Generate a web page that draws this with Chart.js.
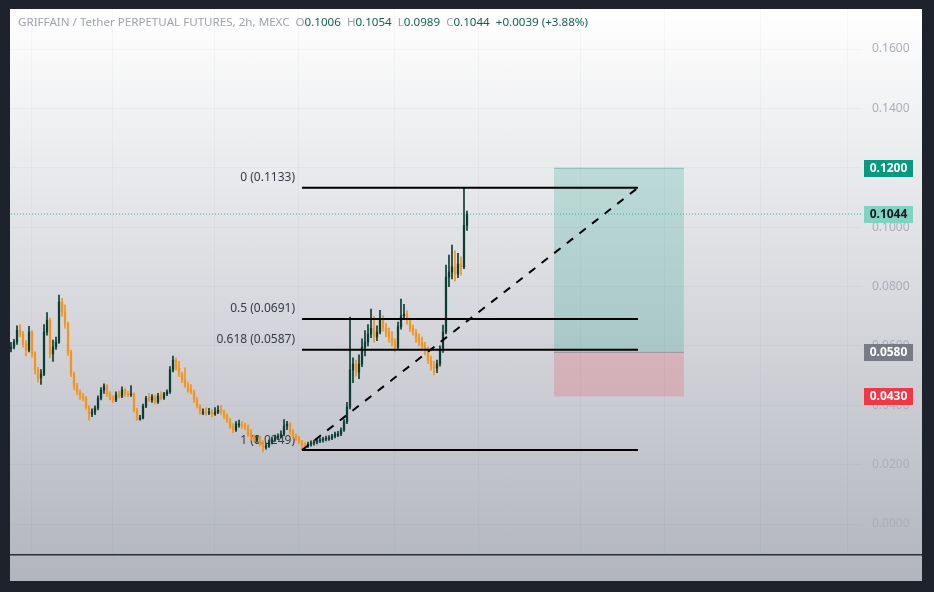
<!DOCTYPE html>
<html>
<head>
<meta charset="utf-8">
<script src="https://cdn.jsdelivr.net/npm/chart.js@4.4.1/dist/chart.umd.min.js"></script>
<style>
    html, body { margin: 0; padding: 0; background: #1e222d; width: 934px; height: 592px; overflow: hidden; }
    #panel {
        position: absolute; left: 10px; top: 9px; width: 912px; height: 572px;
        background: linear-gradient(to bottom, #ffffff 0%, #b2b5be 100%);
    }
    #chart { position: absolute; left: 0; top: 0; }
    #legend {
        position: absolute; left: 8px; top: 5px; white-space: pre;
        font: 11.6px "Noto Sans", sans-serif; color: #a0a3ac;
    }
    #legend .v { color: #135e51; }
</style>
</head>
<body>
<div id="panel">
    <canvas id="chart" width="912" height="572"></canvas>
    <div id="legend">GRIFFAIN / Tether PERPETUAL FUTURES, 2h, MEXC  O<span class="v">0.1006</span>  H<span class="v">0.1054</span>  L<span class="v">0.0989</span>  C<span class="v">0.1044</span>  <span class="v">+0.0039 (+3.88%)</span></div>
</div>
<script>
// 2h candles, index = bar number
const candleOpen = [
    0.0590, 0.0596, 0.0613, 0.0653, 0.0640, 0.0606, 0.0586, 0.0647, 0.0573, 0.0519,
    0.0492, 0.0505, 0.0647, 0.0687, 0.0573, 0.0596, 0.0613, 0.0748, 0.0714, 0.0674,
    0.0579, 0.0505, 0.0465, 0.0445, 0.0431, 0.0424, 0.0394, 0.0371, 0.0377, 0.0391,
    0.0424, 0.0451, 0.0465, 0.0438, 0.0424, 0.0418, 0.0435, 0.0431, 0.0451, 0.0438,
    0.0435, 0.0438, 0.0384, 0.0357, 0.0357, 0.0397, 0.0424, 0.0418, 0.0428, 0.0411,
    0.0431, 0.0424, 0.0438, 0.0445, 0.0519, 0.0552, 0.0525, 0.0505, 0.0485, 0.0465,
    0.0451, 0.0445, 0.0418, 0.0397, 0.0377, 0.0377, 0.0374, 0.0377, 0.0371, 0.0377,
    0.0384, 0.0377, 0.0364, 0.0350, 0.0330, 0.0317, 0.0337, 0.0337, 0.0330, 0.0327,
    0.0303, 0.0290, 0.0283, 0.0290, 0.0269, 0.0259, 0.0263, 0.0276, 0.0283, 0.0290,
    0.0296, 0.0303, 0.0330, 0.0337, 0.0310, 0.0296, 0.0290, 0.0276, 0.0266, 0.0263,
    0.0269, 0.0273, 0.0276, 0.0280, 0.0283, 0.0286, 0.0290, 0.0290, 0.0296, 0.0303,
    0.0303, 0.0317, 0.0344, 0.0394, 0.0519, 0.0539, 0.0512, 0.0539, 0.0596, 0.0613,
    0.0640, 0.0660, 0.0630, 0.0647, 0.0687, 0.0660, 0.0647, 0.0627, 0.0613, 0.0596,
    0.0664, 0.0701, 0.0707, 0.0687, 0.0660, 0.0647, 0.0627, 0.0613, 0.0600, 0.0586,
    0.0552, 0.0532, 0.0525, 0.0539, 0.0586, 0.0647, 0.0832, 0.0849, 0.0866, 0.0842,
    0.0876, 0.0866, 0.1006
];
const candleHigh = [
    0.0612, 0.0622, 0.0668, 0.0672, 0.0648, 0.0618, 0.0666, 0.0652, 0.0580, 0.0528,
    0.0520, 0.0672, 0.0712, 0.0694, 0.0620, 0.0630, 0.0771, 0.0760, 0.0738, 0.0680,
    0.0586, 0.0512, 0.0474, 0.0452, 0.0440, 0.0430, 0.0400, 0.0388, 0.0398, 0.0432,
    0.0460, 0.0472, 0.0470, 0.0446, 0.0432, 0.0445, 0.0448, 0.0462, 0.0456, 0.0447,
    0.0466, 0.0442, 0.0390, 0.0366, 0.0404, 0.0430, 0.0440, 0.0436, 0.0434, 0.0440,
    0.0446, 0.0444, 0.0452, 0.0530, 0.0566, 0.0560, 0.0548, 0.0512, 0.0526, 0.0478,
    0.0470, 0.0452, 0.0426, 0.0402, 0.0388, 0.0392, 0.0390, 0.0386, 0.0392, 0.0398,
    0.0400, 0.0384, 0.0370, 0.0356, 0.0338, 0.0345, 0.0350, 0.0346, 0.0340, 0.0334,
    0.0318, 0.0300, 0.0298, 0.0296, 0.0280, 0.0272, 0.0284, 0.0292, 0.0300, 0.0304,
    0.0314, 0.0352, 0.0346, 0.0342, 0.0318, 0.0304, 0.0296, 0.0282, 0.0274, 0.0276,
    0.0280, 0.0282, 0.0286, 0.0290, 0.0292, 0.0296, 0.0298, 0.0302, 0.0310, 0.0312,
    0.0324, 0.0352, 0.0410, 0.0697, 0.0560, 0.0552, 0.0570, 0.0624, 0.0652, 0.0672,
    0.0724, 0.0700, 0.0668, 0.0720, 0.0702, 0.0676, 0.0660, 0.0648, 0.0624, 0.0680,
    0.0758, 0.0740, 0.0718, 0.0694, 0.0670, 0.0656, 0.0640, 0.0630, 0.0612, 0.0596,
    0.0566, 0.0548, 0.0552, 0.0600, 0.0670, 0.0872, 0.0906, 0.0940, 0.0920, 0.0912,
    0.0900, 0.1133, 0.1054
];
const candleLow = [
    0.0580, 0.0590, 0.0605, 0.0630, 0.0596, 0.0566, 0.0580, 0.0562, 0.0505, 0.0478,
    0.0470, 0.0500, 0.0636, 0.0560, 0.0548, 0.0588, 0.0608, 0.0700, 0.0660, 0.0568,
    0.0496, 0.0452, 0.0436, 0.0420, 0.0415, 0.0386, 0.0350, 0.0362, 0.0368, 0.0384,
    0.0418, 0.0440, 0.0430, 0.0418, 0.0410, 0.0412, 0.0425, 0.0426, 0.0430, 0.0428,
    0.0430, 0.0378, 0.0350, 0.0350, 0.0354, 0.0392, 0.0412, 0.0410, 0.0404, 0.0406,
    0.0418, 0.0420, 0.0432, 0.0440, 0.0512, 0.0518, 0.0496, 0.0476, 0.0460, 0.0444,
    0.0438, 0.0410, 0.0390, 0.0370, 0.0368, 0.0366, 0.0368, 0.0362, 0.0366, 0.0372,
    0.0370, 0.0356, 0.0342, 0.0322, 0.0308, 0.0312, 0.0326, 0.0322, 0.0318, 0.0295,
    0.0282, 0.0276, 0.0276, 0.0262, 0.0243, 0.0252, 0.0258, 0.0270, 0.0278, 0.0284,
    0.0290, 0.0298, 0.0318, 0.0302, 0.0288, 0.0282, 0.0270, 0.0249, 0.0256, 0.0258,
    0.0262, 0.0266, 0.0270, 0.0274, 0.0276, 0.0280, 0.0282, 0.0284, 0.0290, 0.0294,
    0.0298, 0.0312, 0.0338, 0.0388, 0.0476, 0.0498, 0.0490, 0.0530, 0.0566, 0.0600,
    0.0628, 0.0612, 0.0618, 0.0640, 0.0650, 0.0630, 0.0612, 0.0600, 0.0580, 0.0588,
    0.0656, 0.0688, 0.0672, 0.0648, 0.0636, 0.0612, 0.0600, 0.0590, 0.0570, 0.0540,
    0.0518, 0.0502, 0.0510, 0.0532, 0.0578, 0.0640, 0.0800, 0.0826, 0.0818, 0.0830,
    0.0838, 0.0860, 0.0989
];
const candleClose = [
    0.0596, 0.0613, 0.0653, 0.0640, 0.0606, 0.0586, 0.0647, 0.0573, 0.0519, 0.0492,
    0.0505, 0.0647, 0.0687, 0.0573, 0.0596, 0.0613, 0.0748, 0.0714, 0.0674, 0.0579,
    0.0505, 0.0465, 0.0445, 0.0431, 0.0424, 0.0394, 0.0371, 0.0377, 0.0391, 0.0424,
    0.0451, 0.0465, 0.0438, 0.0424, 0.0418, 0.0435, 0.0431, 0.0451, 0.0438, 0.0435,
    0.0438, 0.0384, 0.0357, 0.0357, 0.0397, 0.0424, 0.0418, 0.0428, 0.0411, 0.0431,
    0.0424, 0.0438, 0.0445, 0.0519, 0.0552, 0.0525, 0.0505, 0.0485, 0.0465, 0.0451,
    0.0445, 0.0418, 0.0397, 0.0377, 0.0377, 0.0374, 0.0377, 0.0371, 0.0377, 0.0384,
    0.0377, 0.0364, 0.0350, 0.0330, 0.0317, 0.0337, 0.0337, 0.0330, 0.0327, 0.0303,
    0.0290, 0.0283, 0.0290, 0.0269, 0.0259, 0.0263, 0.0276, 0.0283, 0.0290, 0.0296,
    0.0303, 0.0330, 0.0337, 0.0310, 0.0296, 0.0290, 0.0276, 0.0266, 0.0263, 0.0269,
    0.0273, 0.0276, 0.0280, 0.0283, 0.0286, 0.0290, 0.0290, 0.0296, 0.0303, 0.0303,
    0.0317, 0.0344, 0.0394, 0.0519, 0.0539, 0.0512, 0.0539, 0.0596, 0.0613, 0.0640,
    0.0660, 0.0630, 0.0647, 0.0687, 0.0660, 0.0647, 0.0627, 0.0613, 0.0596, 0.0664,
    0.0701, 0.0707, 0.0687, 0.0660, 0.0647, 0.0627, 0.0613, 0.0600, 0.0586, 0.0552,
    0.0532, 0.0525, 0.0539, 0.0586, 0.0647, 0.0832, 0.0849, 0.0866, 0.0842, 0.0876,
    0.0866, 0.1006, 0.1044
];

// fib retracement drawing
const fibLevels = [0, 0.5, 0.618, 1];
const fibPrices = [0.1133, 0.0691, 0.0587, 0.0249];
const fibBars = [97, 209];

// trend line (dashed)
const trendBars = [97, 209];
const trendPrices = [0.0249, 0.1133];

// long position tool
const positionBars = [181, 224.3];
const positionTarget = 0.1200;
const positionEntry = 0.0580;
const positionStop = 0.0430;

const lastPrice = 0.1044;

// price scale
const yTicks = [0, 0.02, 0.04, 0.06, 0.08, 0.10, 0.12, 0.14, 0.16];
const gridBars = [7, 34, 68, 96, 128, 156, 190, 218, 250, 279];
const priceTags = [positionTarget, lastPrice, positionEntry, positionStop];
const priceTagColors = ['#089981', '#7fd3c1', '#787b86', '#f23645'];
const priceTagText = ['#ffffff', '#131722', '#ffffff', '#ffffff'];

const upColor = '#0b3d33';
const downColor = '#f7931a';

Chart.defaults.font.family = '"Noto Sans", sans-serif';
Chart.defaults.font.size = 12;

let wicks = [];
let bodies = [];
let colors = [];
for (let i = 0; i < candleClose.length; i++) {
    wicks.push({ x: i, y: [candleLow[i], candleHigh[i]] });
    bodies.push({ x: i, y: [candleOpen[i], candleClose[i]] });
    colors.push(candleClose[i] >= candleOpen[i] ? upColor : downColor);
}

function segment(xs, ys) {
    return [{ x: xs[0], y: ys[0] }, { x: xs[1], y: ys[1] }];
}

let fibSets = fibPrices.map((p) => ({
    type: 'line',
    data: segment(fibBars, [p, p]),
    borderColor: '#000000',
    borderWidth: 2,
    pointRadius: 0,
    order: 0,
}));

const overlay = {
    id: 'overlay',
    beforeDatasetsDraw(chart) {
        const ctx = chart.ctx;
        const x = chart.scales.x;
        const y = chart.scales.y;

        // position box
        const left = x.getPixelForValue(positionBars[0]);
        const right = x.getPixelForValue(positionBars[1]);
        const top = y.getPixelForValue(positionTarget);
        const mid = y.getPixelForValue(positionEntry);
        const bot = y.getPixelForValue(positionStop);
        ctx.save();
        ctx.fillStyle = 'rgba(8,153,129,0.2)';
        ctx.fillRect(left, top, right - left, mid - top);
        ctx.fillStyle = 'rgba(242,54,69,0.2)';
        ctx.fillRect(left, mid, right - left, bot - mid);
        ctx.fillStyle = 'rgba(8,153,129,0.35)';
        ctx.fillRect(left, top, right - left, 1);
        ctx.fillStyle = 'rgba(120,123,134,0.6)';
        ctx.fillRect(left, mid, right - left, 1);

        // fib labels
        ctx.font = '12px "Noto Sans"';
        ctx.textAlign = 'right';
        ctx.textBaseline = 'middle';
        ctx.fillStyle = '#363a45';
        const lx = x.getPixelForValue(fibBars[0]) - 7;
        for (let k = 0; k < fibLevels.length; k++) {
            ctx.fillText(`${fibLevels[k]} (${fibPrices[k].toFixed(4)})`, lx, y.getPixelForValue(fibPrices[k]) - 10);
        }
        ctx.restore();
    },
    afterDraw(chart) {
        const ctx = chart.ctx;
        const y = chart.scales.y;
        const area = chart.chartArea;
        ctx.save();
        ctx.fillStyle = '#2a2e39';
        ctx.fillRect(0, area.bottom, chart.width, 1.5);

        ctx.font = 'bold 12px "Noto Sans"';
        ctx.textAlign = 'center';
        ctx.textBaseline = 'middle';
        for (let k = 0; k < priceTags.length; k++) {
            const py = Math.round(y.getPixelForValue(priceTags[k]));
            ctx.fillStyle = priceTagColors[k];
            ctx.fillRect(area.right + 2, py - 8, 49, 17);
            ctx.fillStyle = priceTagText[k];
            ctx.fillText(priceTags[k].toFixed(4), area.right + 26.5, py + 0.5);
        }
        ctx.restore();
    },
};

const ctx = document.getElementById('chart').getContext('2d');
const chart = new Chart(ctx, {
    type: 'bar',
    data: {
        datasets: [
            ...fibSets,
            {
                type: 'line',
                data: segment(trendBars, trendPrices),
                borderColor: '#000000',
                borderWidth: 2,
                borderDash: [8, 8],
                pointRadius: 0,
                order: 0,
            },
            {
                type: 'line',
                data: segment([-1, 284], [lastPrice, lastPrice]),
                borderColor: '#3bb3a0',
                borderWidth: 1,
                borderDash: [1, 2],
                pointRadius: 0,
                order: 3,
            },
            {
                data: bodies,
                backgroundColor: colors,
                barThickness: 1.6,
                minBarLength: 1,
                grouped: false,
                order: 1,
            },
            {
                data: wicks,
                backgroundColor: colors,
                barThickness: 1,
                grouped: false,
                order: 2,
            },
        ],
    },
    options: {
        responsive: false,
        animation: false,
        events: [],
        layout: { padding: 0 },
        plugins: {
            legend: { display: false },
            tooltip: { enabled: false },
        },
        scales: {
            x: {
                type: 'linear',
                min: -1 / 3,
                max: 283.67,
                offset: false,
                afterFit: (scale) => {
                    scale.height = 27;
                    scale.paddingLeft = 0;
                    scale.paddingRight = 0;
                },
                afterBuildTicks: (scale) => { scale.ticks = gridBars.map((v) => ({ value: v })); },
                ticks: { display: false },
                border: { display: false },
                grid: { color: 'rgba(42,46,57,0.035)', drawTicks: false, offset: false },
            },
            y: {
                type: 'linear',
                position: 'right',
                min: -0.0101,
                max: 0.1735,
                afterFit: (scale) => {
                    scale.width = 60;
                    scale.paddingTop = 0;
                    scale.paddingBottom = 0;
                },
                afterBuildTicks: (scale) => { scale.ticks = yTicks.map((v) => ({ value: v })); },
                ticks: {
                    color: '#abaeb8',
                    padding: 10,
                    callback: (v) => Number(v).toFixed(4),
                },
                border: { display: false },
                grid: { color: 'rgba(42,46,57,0.035)', drawTicks: false },
            },
        },
    },
    plugins: [overlay],
});
</script>
</body>
</html>
